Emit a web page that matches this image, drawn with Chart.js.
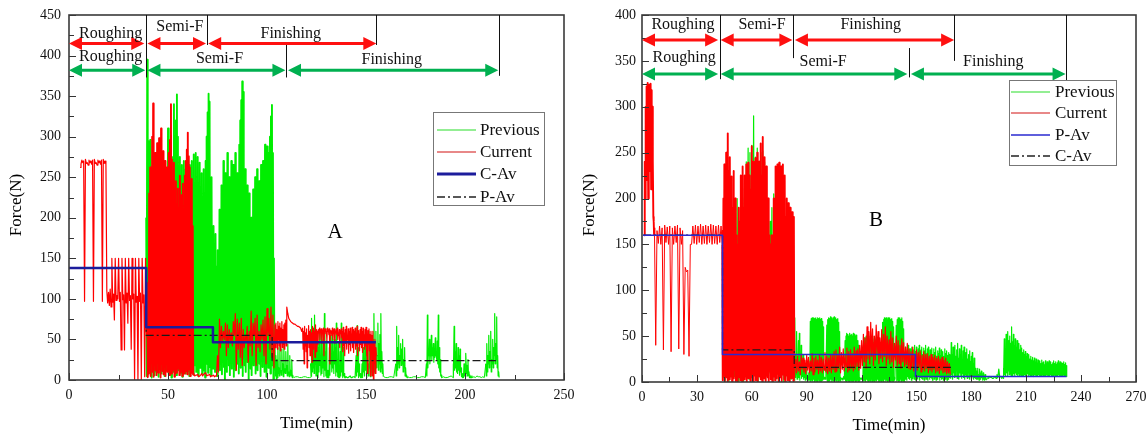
<!DOCTYPE html>
<html><head><meta charset="utf-8">
<script src="https://cdn.jsdelivr.net/npm/chart.js@4"></script>
<style>
html,body{margin:0;padding:0;background:#fff;width:1146px;height:435px;overflow:hidden;position:relative}
canvas{position:absolute;top:0}
#ca{left:0}
#cb{left:545px}
</style></head><body>
<canvas id="ca" width="600" height="435"></canvas>
<canvas id="cb" width="601" height="435"></canvas>
<script>
// ================= DATA =================
// Axis tick settings
const xTicksA = {min:0, max:250, step:50};
const yTicksA = {min:0, max:450, step:50};
const xTicksB = {min:0, max:270, step:30};
const yTicksB = {min:0, max:400, step:50};

// ---- Panel A, "Current" (red): runs of [start time, sample step, peaks, troughs]
const curA1_hi=[262,271,270,272,268,271,270,271,272,268,271,270,271,272,270];
const curA1_lo=[266,268,97,267,265,268,266,97,267,265,268,266,97,267,266];
const curA2_hi=[110,108,112,150,106,150,104,150,108,150,105,150,107,150,104,150,106,150,103,150,107,150,105,150];
const curA2_lo=[95,92,90,96,74,98,100,97,37,99,37,95,70,98,38,100,0,96,0,97,0,95,4,60];
const curA3_hi=[50,120,230,262,215,300,341,255,280,232,292,262,298,246,310,265,282,238,270,226,262,218,280,296,340,272,246,268,222,245,205,236,212,252,198,228,242,205,252,270,284,305,276,262,232,248,190];
const curA3_lo=[3,8,15,5,22,10,4,18,12,6,25,9,14,3,20,11,7,16,5,28,10,13,6,19,8,24,12,4,17,9,30,14,6,21,10,5,15,8,26,11,7,18,13,5,20,9,6];
const curA4_hi=[8,6,7,5,8,7,9,6,7,5,6,5];
const curA4_lo=[5,6,4,6,5,8,5,6,4,5,4,5];
const curA5_hi=[30,75,66,60,70,68,62,58,72,82,75,70,76,62,55,66,60,85,70,76,80,60,68,74,78,88,76,90,80];
const curA5_lo=[10,40,48,50,30,40,48,42,55,12,38,28,18,40,48,22,42,30,55,18,40,35,50,30,20,55,38,28,15];
const curA6_hi=[68,70,62,72,66,70,64,72,62,68,70,74];
const curA6_lo=[40,45,38,50,42,36,48,40,44,38,46,42];
const curA7_hi=[90,76,72,70,69,67,66,64];
const curA7_lo=[82,74,71,69,68,66,65,60];
const curA8_hi=[64,60,66,58,63,55,67,60,62,58,66,64,60,68,62,60];
const curA8_lo=[38,20,42,35,15,48,40,30,45,22,38,50,28,40,35,44];
const curA9_hi=[62,64,60,63,61,64,62,63,60,64,62,63,61,60,64,62,63,60,62,64,58,62,61,63];
const curA9_lo=[58,50,60,45,58,30,60,57,48,60,56,20,58,55,50,57,45,58,56,50,55,40,57,52];
const curA10_hi=[60,65,58,62,66,55,63,60,64,57,65,62,60,64,58,66,61,57,62,65,60,64,56,62,65,59,61,63,56,60];
const curA10_lo=[35,42,30,45,38,50,33,44,36,48,40,34,46,38,42,30,48,36,44,40,34,46,38,42,30,8,44,36,5,40];
const curA11_hi=[55,60,45,50,40];
const curA11_lo=[5,0,20,8,30];

// ---- Panel A, "Previous" (green)
const prevA1_hi=[200,395,294,285,296,240,262,210,250,200,
 240,190,260,200,250,210,240,195,255,205,
 250,200,310,215,260,230,275,240,340,280,
 320,352,300,200,275,190,265,180,270,195,
 260,185,275,190,265,180,270,175,278,185,
 280,170,275,190,268,165,255,180,260,175,
 270,300,330,353,343,200,250,160,190,150,
 180,140,160,150,210,165,240,180,270,175,
 255,170,280,185,250,165,270,180,265,175,
 280,170,255,190,290,320,345,368,355,180,
 260,175,240,165,230,150,200,160,235,170,
 250,165,260,180,245,170,265,185,270,180,
 290,175,288,170,280,300,325,339,280,150,
 40];
const prevA1_lo=[5,20,8,30,12,3,25,15,6,35,
 10,22,4,18,30,8,14,26,5,20,
 12,35,7,16,28,3,22,10,30,14,
 6,25,12,40,9,18,4,28,15,8,
 32,11,20,5,26,14,38,7,18,24,
 10,30,5,22,15,40,8,28,12,3,
 20,35,9,16,26,6,30,14,22,10,
 38,5,18,28,12,34,7,24,16,0,
 26,10,30,18,6,36,14,22,4,28,
 12,32,20,8,40,15,25,5,30,18,
 10,36,22,0,28,14,6,33,18,24,
 8,30,12,38,20,5,26,16,34,10,
 22,4,30,15,36,8,24,18,0,12,
 5];
const prevA2_hi=[30,25,40,15,45,12,38,20,42,14,35,18,44,10,30,12,25,6];
const prevA2_lo=[0,3,8,5,10,6,12,4,9,8,15,5,8,4,6,5,3,3];
const prevA3_hi=[3,4,3,4,3];
const prevA3_lo=[4,3,4,3,4];
const prevA4_hi=[20,76,30,50,80,35,55,45,40,60,25,58,30,50,82,35,48,12,4,40,55,30,60,35,50,40,70,25,45,15,35,70,20,40,8,4];
const prevA4_lo=[5,10,15,8,20,5,12,3,10,18,6,8,15,4,12,5,3,3,3,6,20,10,15,8,20,5,10,4,3,3,5,10,3,5,3,3];
const prevA5_hi=[4,3,5,3,4];
const prevA5_lo=[3,4,3,4,3];
const prevA6_hi=[30,67,40,20,8,4];
const prevA6_lo=[5,10,3,5,3,3];
const prevA7_hi=[20,40,15,50,30,45,20,60,35,55,25,50];
const prevA7_lo=[3,10,5,12,3,8,5,15,4,10,6,8];
const prevA8_hi=[82,40,60,30,70,45,56,82,35,20];
const prevA8_lo=[10,25,15,30,12,20,10,15,8,4];
const prevA9_hi=[4,3,4];
const prevA9_lo=[3,4,3];
const prevA10_hi=[20,66,40,55,30,45,38,50,25,40,15,6];
const prevA10_lo=[5,12,20,15,25,18,20,10,15,5,4,3];
const prevA11_hi=[4,3,4,3,4];
const prevA11_lo=[3,4,3,4,3];
const prevA12_hi=[20,80,35,50,30,55,40,45,35,52,30,48,80,40,25,6];
const prevA12_lo=[5,15,30,20,35,25,30,22,28,30,25,20,15,10,5,3];
const prevA13_hi=[4,3,5];
const prevA13_lo=[3,4,3];
const prevA14_hi=[20,66,35,45,25,40,30,38,15,8,5,20,12,33,18,25,10,6,4,5];
const prevA14_lo=[5,12,15,10,8,12,6,10,4,3,3,5,4,8,5,6,3,3,3,3];
const prevA15_hi=[4,5,4,4];
const prevA15_lo=[3,4,3,3];
const prevA16_hi=[20,45,30,55,35,60,25,50,40,82,45,78,30,10];
const prevA16_lo=[5,10,20,15,25,10,20,15,30,20,25,15,5,3];

// ---- Panel A averages (step levels)
const cAvA_t=[0,39,72.7,155];     const cAvA_v=[138,65,46.5,46.5];
const pAvA_t=[0,39,102.6,215.7];  const pAvA_v=[138,55,24,24];

// ---- Panel B, "Current" (red)
const curB1_hi=[160,240,300,322,318,326,320,324,317,325,318,300,240,175];
const curB1_lo=[165,200,260,220,280,200,250,230,270,210,240,220,180,160];
const curB2_hi=[168,165,170,168,171,169,170,168,170,171,168,165,125,122,150,170,171,170,172,170,171,170,172,171,170,171,170];
const curB2_lo=[40,151,150,35,152,150,33,150,152,36,150,30,120,28,150,151,150,152,150,151,150,152,150,151,150,152,150];
const curB3_hi=[165,200,237,190,250,215,271,230,245,200,
 224,190,230,175,200,160,140,150,190,175,
 225,200,235,190,225,180,237,195,239,200,
 225,210,257,215,240,200,244,210,250,215,
 240,210,260,225,267,220,245,215,235,190,
 200,160,150,144,160,150,200,180,235,195,
 237,200,239,195,235,190,237,185,225,180,
 200,175,195,170,190,175,185,170,180];
const curB3_lo=[2,8,0,12,5,0,10,3,15,6,
 0,9,4,13,1,7,0,11,5,2,
 14,0,8,3,10,6,0,12,4,9,
 1,15,5,0,7,11,2,8,0,13,
 6,3,10,0,9,4,14,1,7,5,
 0,12,3,8,0,10,6,2,15,4,
 9,0,11,5,1,8,13,3,0,7,
 10,2,6,0,12,4,9,1,5];
const curB4_hi=[25,28,22,30,26,24,29,27,23,31,26,28,24,30,27,25,32,28,26,30,29,33,
 35,30,38,32,36,29,37,33,35,31,38,34,36,40,
 45,52,48,60,55,65,58,50,62,55,48,57,52,60,50,46,55,48,42,50,45,40,47,43,38,42,
 36,33,38,30,35,32,34,29,33,30,31,28,30,27,29,26,28,25,27,24,26,22,20];
const curB4_lo=[10,12,8,14,11,9,13,10,12,8,11,14,9,12,10,13,11,9,12,10,14,11,
 12,15,10,14,12,16,11,13,15,12,14,17,13,15,
 18,22,15,25,20,28,18,24,30,20,26,22,28,18,25,20,22,16,24,18,20,15,22,17,19,15,
 14,17,12,15,13,16,11,14,12,15,10,13,11,14,10,12,9,13,10,11,9,10,8];

// ---- Panel B, "Previous" (green)
const prevB1_hi=[150,180,170,190,175,160,185,195,200,170,180,200,210,240,255,250,258,290,245,255,240,250,252,240,225,200,175,190,205,200,210,190,200,185,180,170,165,160,150,70];
const prevB1_lo=[5,2,8,0,10,3,6,12,1,7,4,0,9,15,3,6,2,11,5,0,8,4,13,1,6,10,3,0,7,12,2,5,9,0,4,11,6,3,8,2];
const prevB2_hi=[70,30,55,20,45,53,25,40,15,30,10,20,8,15,6,10,5];
const prevB2_lo=[5,8,3,10,5,2,8,4,6,3,5,2,4,3,2,3,2];
const prevB3_hi=[66,69,70,68,70,69,70,68,70,69,70,68,69,66,60];
const prevB3_lo=[0,2,1,3,0,2,1,0,3,1,2,0,1,2,3];
const prevB4_hi=[5,4];
const prevB4_lo=[3,3];
const prevB5_hi=[62,68,70,69,71,70,68,70,71,69,70,68,69,65,55];
const prevB5_lo=[1,0,2,1,3,0,2,1,0,2,1,3,0,2,1];
const prevB6_hi=[5,4,6];
const prevB6_lo=[3,2,3];
const prevB7_hi=[45,50,53,52,50,53,51,52,50,53,52,50,51,48,45,40];
const prevB7_lo=[1,0,2,1,0,2,1,3,0,1,2,0,1,2,0,1];
const prevB8_hi=[5,4,5];
const prevB8_lo=[3,3,2];
const prevB9_hi=[40,48,45,50,42,47,50,44,48,46,50,43,47,45,49,44,46,42,40,35];
const prevB9_lo=[1,2,0,3,1,0,2,1,3,0,2,1,0,2,1,3,0,1,2,0];
const prevB10_hi=[55,65,68,70,69,70,68,70,69,70,68,69,66,60];
const prevB10_lo=[2,1,0,3,1,2,0,1,3,0,2,1,0,2];
const prevB11_hi=[5];
const prevB11_lo=[3];
const prevB12_hi=[62,68,70,69,70,68,70,66,58];
const prevB12_lo=[1,2,0,1,3,0,2,1,0];
const prevB13_hi=[30,38,25,35,40,28,36,32,38,30,35,40,33,38,30,36,40,32,35,38,30,37,34,40,31,36,38,29,35,33,37,30,36,32,38,28,34,31,37,29,35,30,33,28,36,31,34,29,32,30];
const prevB13_lo=[3,5,2,6,4,3,5,2,4,6,3,5,2,4,3,6,2,5,4,3,6,2,5,3,4,2,6,3,5,4,2,6,3,5,2,4,3,6,2,5,3,4,2,6,3,5,2,4,3,5];
const prevB14_hi=[25,43,30,38,22,40,28,35,42,26,36,30,40,24,34,38,28,32,36,25,30,34,22,28,32,20,26,18,15];
const prevB14_lo=[4,8,3,10,5,6,12,4,8,3,10,6,4,9,5,3,8,6,4,10,5,3,7,4,6,3,5,4,3];
const prevB15_hi=[12,15,8,14,10,12,7,10,6,8,5];
const prevB15_lo=[3,5,2,4,3,5,2,3,2,3,2];
const prevB16_hi=[5,6,5,4,6,8,14,6,5];
const prevB16_lo=[4,5,4,5,4,5,6,4,4];
const prevB17_hi=[15,47,30,52,40,55,45,50,42,60,44,52,40,47,38,45,36,42,35,40,
 37,32,35,30,33,28,31,27,30,25,28,24,27,23,26,22,25,21,24,22,
 23,20,24,21,22,19,23,20,22,21,23,20,22,19,21,23,20,22,19,21,
 23,20,22,18,21,20,22,19,21,18];
const prevB17_lo=[5,8,6,10,7,12,8,9,6,11,7,9,6,10,8,7,9,6,8,7,
 6,9,7,8,6,7,9,6,8,7,6,8,7,6,8,7,6,7,8,6,
 7,6,8,7,6,7,6,8,7,6,7,8,6,7,6,8,7,6,7,6,
 8,7,6,7,6,8,7,6,7,6];

// ---- Panel B averages
const pAvB_t=[0.6,44,149.5,232];  const pAvB_v=[160,30,6,6];
const cAvB_t=[0.6,44,83.2,169];   const cAvB_v=[160,35,16,16];

// ---- Run tables: [start time (min), sample step (min), peaks, troughs]
const curA_runs=[[5.6,0.9,curA1_hi,curA1_lo],[19.1,0.85,curA2_hi,curA2_lo],[39.5,0.5,curA3_hi,curA3_lo],[63,1,curA4_hi,curA4_lo],[75,1,curA5_hi,curA5_lo],[104,0.5,curA6_hi,curA6_lo],[110,1,curA7_hi,curA7_lo],[118,0.5,curA8_hi,curA8_lo],[126,0.5,curA9_hi,curA9_lo],[138,0.5,curA10_hi,curA10_lo],[153,0.5,curA11_hi,curA11_lo]];
const prevA_runs=[[39,0.5,prevA1_hi,prevA1_lo],[104.5,0.5,prevA2_hi,prevA2_lo],[113.5,2,prevA3_hi,prevA3_lo],[122,0.5,prevA4_hi,prevA4_lo],[140,1,prevA5_hi,prevA5_lo],[145,0.5,prevA6_hi,prevA6_lo],[148,0.5,prevA7_hi,prevA7_lo],[154,0.5,prevA8_hi,prevA8_lo],[159,2,prevA9_hi,prevA9_lo],[165,0.5,prevA10_hi,prevA10_lo],[171,2,prevA11_hi,prevA11_lo],[180.5,0.5,prevA12_hi,prevA12_lo],[189,2,prevA13_hi,prevA13_lo],[194,0.5,prevA14_hi,prevA14_lo],[204.5,1.5,prevA15_hi,prevA15_lo],[210.5,0.5,prevA16_hi,prevA16_lo]];
const curB_runs=[[1.2,0.4,curB1_hi,curB1_lo],[6.8,1.4,curB2_hi,curB2_lo],[44,0.5,curB3_hi,curB3_lo],[84,1,curB4_hi,curB4_lo]];
const prevB_runs=[[44,1,prevB1_hi,prevB1_lo],[83.5,0.5,prevB2_hi,prevB2_lo],[92,0.5,prevB3_hi,prevB3_lo],[99.6,0.6,prevB4_hi,prevB4_lo],[101,0.5,prevB5_hi,prevB5_lo],[108.6,0.8,prevB6_hi,prevB6_lo],[111,0.5,prevB7_hi,prevB7_lo],[119,0.7,prevB8_hi,prevB8_lo],[121,0.5,prevB9_hi,prevB9_lo],[131,0.5,prevB10_hi,prevB10_lo],[138,0.5,prevB11_hi,prevB11_lo],[139,0.5,prevB12_hi,prevB12_lo],[143.5,0.5,prevB13_hi,prevB13_lo],[168.5,0.5,prevB14_hi,prevB14_lo],[183,0.5,prevB15_hi,prevB15_lo],[189,1,prevB16_hi,prevB16_lo],[197.5,0.5,prevB17_hi,prevB17_lo]];

// ---- Phase annotations (time in min, force in N)
const phaseLinesA=[[39,373,450],[69.5,413,450],[155.2,413,450],[217.3,375,450],[109.7,373,413]];
const redArrowsA=[[0,38,415],[39.6,69.2,415],[70.3,155.2,415]];
const greenArrowsA=[[0,38.5,382],[39.6,109.3,382],[110.6,216.8,382]];
const redLabelsA=[["Roughing",21,427],["Semi-F",56,435.5],["Finishing",112,427]];
const greenLabelsA=[["Roughing",21,398.5],["Semi-F",76,395.5],["Finishing",163,394.5]];
const phaseLinesB=[[42.4,330,400],[82.6,353,400],[170.5,350,400],[231.5,329,400],[146,332,364]];
const redArrowsB=[[0,41.6,372.7],[43,82.2,372.7],[83.6,170.6,372.7]];
const greenArrowsB=[[0,41.6,335.7],[43,145,335.7],[147,231.5,335.7]];
const redLabelsB=[["Roughing",22.4,389],["Semi-F",65.6,389],["Finishing",125,389]];
const greenLabelsB=[["Roughing",23,353.5],["Semi-F",99,349],["Finishing",192,349]];
const legendA=["Previous","Current","C-Av","P-Av"];
const legendB=["Previous","Current","P-Av","C-Av"];

// ================= BUILD =================
function build(runs){
  const pts=[];
  for(const [t0,dt,hi,lo] of runs){
    for(let i=0;i<hi.length;i++){
      const t=t0+i*dt;
      pts.push({x:+t.toFixed(3),y:hi[i]});
      if(lo && lo[i]!==undefined) pts.push({x:+(t+dt/2).toFixed(3),y:lo[i]});
    }
  }
  return pts;
}
function steps(ts,vs){ return ts.map((t,i)=>({x:t,y:vs[i]})); }

const SERIF='"Liberation Serif","Times New Roman",serif';
const GREEN='rgb(0,238,0)', RED='rgb(255,0,0)';

// dense, tall oscillation is drawn a little thicker so it reads as a solid band
function segWidth(c){
  const dx=c.p1.parsed.x-c.p0.parsed.x;
  const ym=Math.max(c.p0.parsed.y,c.p1.parsed.y);
  if(dx<0.3 && ym>90) return 1.9;
  if(dx<0.6) return 1.2;
  return 1;
}

const decor={
  id:'decor',
  afterDatasetsDraw(chart,args,o){
    const {ctx,chartArea:a}=chart; const sx=chart.scales.x, sy=chart.scales.y;
    const X=v=>sx.getPixelForValue(v), Y=v=>sy.getPixelForValue(v);
    ctx.save();
    ctx.strokeStyle='#333'; ctx.lineWidth=1;
    ctx.beginPath();
    const xm=o.xStep/2, ym=o.yStep/2;
    for(let i=0;;i++){const v=i*xm; if(v>sx.max+1e-6)break; const px=Math.round(X(v))+0.5; const L=(i%2===0)?7:5; ctx.moveTo(px,a.bottom); ctx.lineTo(px,a.bottom-L);}
    for(let i=0;;i++){const v=i*ym; if(v>sy.max+1e-6)break; const py=Math.round(Y(v))+0.5; const L=(i%2===0)?7:5; ctx.moveTo(a.left,py); ctx.lineTo(a.left+L,py);}
    ctx.stroke();
    ctx.strokeStyle='#3a3a3a'; ctx.lineWidth=1.6;
    ctx.strokeRect(a.left,a.top,a.right-a.left,a.bottom-a.top);
    ctx.strokeStyle='#111'; ctx.lineWidth=1;
    ctx.beginPath();
    for(const [t,v1,v2] of o.lines){const px=Math.round(X(t))+0.5; ctx.moveTo(px,Y(v1)); ctx.lineTo(px,Y(v2));}
    ctx.stroke();
    const arrow=(t1,t2,v,col)=>{
      const x1=X(t1), x2=X(t2), y=Y(v), hl=13, hw=6.5;
      ctx.strokeStyle=col; ctx.fillStyle=col; ctx.lineWidth=3;
      ctx.beginPath(); ctx.moveTo(x1+hl-1,y); ctx.lineTo(x2-hl+1,y); ctx.stroke();
      ctx.beginPath(); ctx.moveTo(x1,y); ctx.lineTo(x1+hl,y-hw); ctx.lineTo(x1+hl,y+hw); ctx.closePath(); ctx.fill();
      ctx.beginPath(); ctx.moveTo(x2,y); ctx.lineTo(x2-hl,y-hw); ctx.lineTo(x2-hl,y+hw); ctx.closePath(); ctx.fill();
    };
    o.red.forEach(r=>arrow(r[0],r[1],r[2],'#ff1010'));
    o.green.forEach(r=>arrow(r[0],r[1],r[2],'#00b050'));
    ctx.fillStyle='#111'; ctx.font='16px '+SERIF; ctx.textAlign='center'; ctx.textBaseline='middle';
    o.labels.forEach(l=>ctx.fillText(l[0],X(l[1]),Y(l[2])));
    const L=o.legend;
    ctx.fillStyle='#fff'; ctx.fillRect(L.x,L.y,L.w,L.h);
    ctx.strokeStyle='#777'; ctx.lineWidth=1; ctx.strokeRect(L.x+0.5,L.y+0.5,L.w,L.h);
    ctx.font='17px '+SERIF; ctx.textAlign='left';
    L.items.forEach((it,i)=>{
      const y=L.rows[i];
      ctx.strokeStyle=it.c; ctx.lineWidth=it.w; ctx.setLineDash(it.d||[]);
      ctx.beginPath(); ctx.moveTo(L.lx1,y); ctx.lineTo(L.lx2,y); ctx.stroke(); ctx.setLineDash([]);
      ctx.fillStyle='#111'; ctx.fillText(it.t,L.tx,y+1);
    });
    ctx.font='21px '+SERIF; ctx.textAlign='center'; ctx.fillStyle='#000';
    ctx.fillText(o.letter[0],o.letter[1],o.letter[2]);
    ctx.font='17px '+SERIF;
    ctx.fillText('Time(min)',(a.left+a.right)/2,o.xTitleY);
    ctx.save(); ctx.translate(o.yTitle[0],o.yTitle[1]); ctx.rotate(-Math.PI/2); ctx.fillText('Force(N)',0,0); ctx.restore();
    ctx.restore();
  }
};

function makeChart(id,p){
  const ds=[];
  ds.push({data:steps(p.av1t,p.av1v),stepped:true,borderColor:p.av1c,borderWidth:p.av1w,order:0});
  ds.push({data:steps(p.av2t,p.av2v),stepped:true,borderColor:'#1a1a1a',borderWidth:1.2,borderDash:[8,3,2,3],order:1});
  ds.push({data:build(p.cur),borderColor:RED,borderWidth:1,segment:{borderWidth:segWidth},order:2});
  ds.push({data:build(p.prev),borderColor:GREEN,borderWidth:1,segment:{borderWidth:segWidth},order:3});
  return new Chart(document.getElementById(id),{
    type:'line',
    data:{datasets:ds},
    plugins:[decor],
    options:{
      responsive:false,animation:false,events:[],devicePixelRatio:1,
      layout:{padding:{left:0,top:15,right:p.padR,bottom:0}},
      elements:{point:{radius:0},line:{tension:0,borderJoinStyle:'round'}},
      plugins:{legend:{display:false},tooltip:{enabled:false},decor:p.decor},
      scales:{
        x:{type:'linear',min:p.xt.min,max:p.xt.max,
          afterFit(s){s.height=p.xH;s.paddingLeft=0;s.paddingRight=0;},
          ticks:{stepSize:p.xt.step,autoSkip:false,maxRotation:0,padding:7,color:'#111',font:{family:SERIF,size:14}},
          grid:{display:false,drawTicks:false},border:{display:false}},
        y:{type:'linear',min:p.yt.min,max:p.yt.max,
          afterFit(s){s.width=p.yW;s.paddingTop=0;s.paddingBottom=0;},
          ticks:{stepSize:p.yt.step,autoSkip:false,padding:p.yPad,color:'#111',font:{family:SERIF,size:14}},
          grid:{display:false,drawTicks:false},border:{display:false}}
      }
    }
  });
}

makeChart('ca',{
  xt:xTicksA,yt:yTicksA,xH:55,yW:69,yPad:8,padR:36,
  av1t:cAvA_t,av1v:cAvA_v,av1c:'#1c1c9c',av1w:2.5,
  av2t:pAvA_t,av2v:pAvA_v,
  cur:curA_runs,prev:prevA_runs,
  decor:{xStep:50,yStep:50,lines:phaseLinesA,red:redArrowsA,green:greenArrowsA,
    labels:redLabelsA.concat(greenLabelsA),
    legend:{x:433,y:112,w:111,h:93,lx1:437,lx2:476,tx:480,rows:[130,152,174,197],
      items:[{t:legendA[0],c:'#6fe86f',w:1.5},{t:legendA[1],c:'#e06060',w:1.5},{t:legendA[2],c:'#1c1c9c',w:3},{t:legendA[3],c:'#222',w:1.3,d:[8,3,2,3]}]},
    letter:['A',335,232],xTitleY:424,yTitle:[17,205]}
});
makeChart('cb',{
  xt:xTicksB,yt:yTicksB,xH:53,yW:97,yPad:6,padR:10,
  av1t:pAvB_t,av1v:pAvB_v,av1c:'#2a2ad0',av1w:1.6,
  av2t:cAvB_t,av2v:cAvB_v,
  cur:curB_runs,prev:prevB_runs,
  decor:{xStep:30,yStep:50,lines:phaseLinesB,red:redArrowsB,green:greenArrowsB,
    labels:redLabelsB.concat(greenLabelsB),
    legend:{x:464,y:80,w:107,h:85,lx1:466,lx2:505,tx:510,rows:[92,113,135,156],
      items:[{t:legendB[0],c:'#6fe86f',w:1.5},{t:legendB[1],c:'#e06060',w:1.5},{t:legendB[2],c:'#2a2ad0',w:1.6},{t:legendB[3],c:'#222',w:1.3,d:[8,3,2,3]}]},
    letter:['B',331,220],xTitleY:426,yTitle:[45,205]}
});
</script>
</body></html>
